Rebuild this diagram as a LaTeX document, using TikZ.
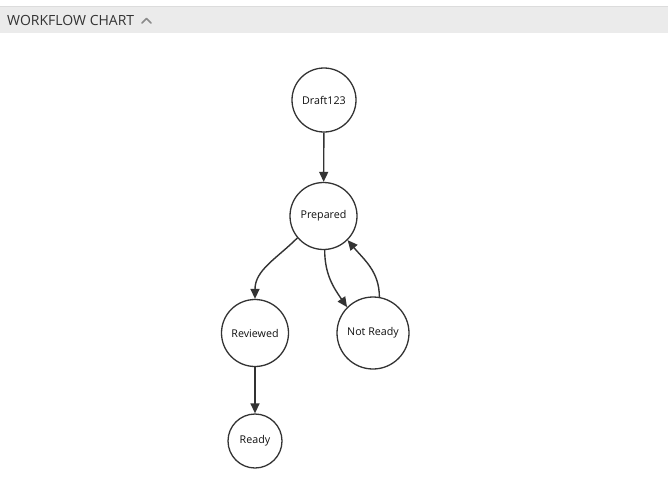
\documentclass[tikz,border=0pt]{standalone}
\usepackage{fontspec}
\setmainfont{Open Sans}
\usetikzlibrary{arrows.meta}
\definecolor{ink}{HTML}{333333}
\definecolor{txt}{HTML}{111111}
\definecolor{band}{HTML}{EBEBEB}
\definecolor{bandline}{HTML}{DCDCDC}
\definecolor{chev}{HTML}{8A8A8A}
\begin{document}
\begin{tikzpicture}[x=1pt,y=-1pt,
  state/.style={circle,draw=ink,line width=1.3pt,fill=white,inner sep=0pt,text=txt,font=\fontsize{10.7}{12}\selectfont},
  flow/.style={draw=ink,line width=1.4pt,-{Triangle[length=10pt,width=9pt]}}]
\useasboundingbox (0,0) rectangle (668,485);
\fill[white] (0,0) rectangle (668,485);
\fill[band] (0,6) rectangle (668,33);
\draw[bandline,line width=0.8pt] (0,6) -- (668,6);
\node[anchor=base west,inner sep=0pt,text=ink,font=\fontsize{14}{16}\selectfont] (title) at (7,25.5) {WORKFLOW CHART};
\draw[chev,line width=1.5pt,line cap=round,line join=round] (142,23) -- (146.5,18.5) -- (151,23);
\node[state,minimum size=64pt] (draft) at (324,100) {Draft123};
\node[state,minimum size=67pt] (prep) at (323.5,216) {Prepared};
\node[state,minimum size=67pt] (rev) at (255,333) {Reviewed};
\node[state,minimum size=72pt] (nr) at (373,333) {Not Ready};
\node[state,minimum size=54pt] (ready) at (255,441) {Ready};
\draw[flow] (draft) -- (prep);
\draw[flow] (prep.-140) to[out=-135,in=90] (rev.north);
\draw[flow] (prep.-88) to[out=-90,in=125] (nr.135);
\draw[flow] (nr.80) to[out=90,in=-50] (prep.-45);
\draw[flow] (rev) -- (ready);
\end{tikzpicture}
\end{document}
